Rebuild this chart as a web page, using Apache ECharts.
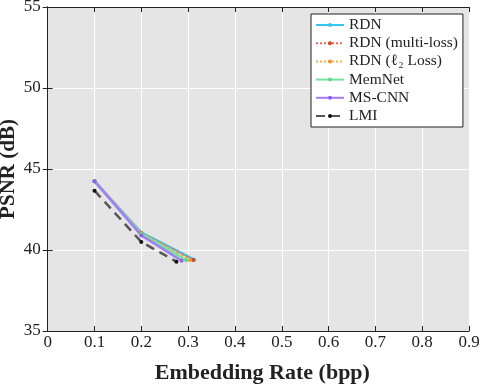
<!DOCTYPE html>
<html>
<head>
<meta charset="utf-8">
<script src="https://cdn.jsdelivr.net/npm/echarts@6/dist/echarts.min.js"></script>
<style>
  html, body { margin: 0; padding: 0; background: #fff; }
  #chart { width: 482px; height: 385px; }
</style>
</head>
<body>
<div id="chart"></div>
<script>
  // values
  const xTicks = [0, 0.1, 0.2, 0.3, 0.4, 0.5, 0.6, 0.7, 0.8, 0.9];
  const yTicks = [35, 40, 45, 50, 55];
  const seriesNames = ['RDN', 'RDN (multi-loss)', 'RDN (\u2113\u2082 Loss)', 'MemNet', 'MS-CNN', 'LMI'];

  const rdnX = [0.1, 0.2, 0.313];
  const rdnY = [44.26, 41.07, 39.4];
  const rdnMultiX = [0.1, 0.2, 0.311];
  const rdnMultiY = [44.25, 41.05, 39.38];
  const rdnL2X = [0.1, 0.2, 0.304];
  const rdnL2Y = [44.25, 41.03, 39.38];
  const memnetX = [0.1, 0.2, 0.296];
  const memnetY = [44.24, 41.0, 39.36];
  const mscnnX = [0.1, 0.2, 0.286];
  const mscnnY = [44.25, 40.9, 39.34];
  const lmiX = [0.1, 0.2, 0.275];
  const lmiY = [43.66, 40.5, 39.28];

  const pairs = (xs, ys) => xs.map((x, i) => [x, ys[i]]);
  const serif = '"Liberation Serif", "DejaVu Serif", serif';

  const chart = echarts.init(document.getElementById('chart'));

  const makeSeries = (name, xs, ys, color, type, symbolColor) => ({
    name,
    type: 'line',
    data: pairs(xs, ys),
    symbol: 'circle',
    symbolSize: 4,
    showSymbol: true,
    lineStyle: { color, width: 2.5, type },
    itemStyle: { color: symbolColor || color },
    emphasis: { disabled: true },
    animation: false,
  });

  const option = {
    animation: false,
    backgroundColor: '#fff',
    grid: {
      left: 47.7, right: 13, top: 7, bottom: 54,
      outerBoundsMode: 'none', containLabel: false,
      show: true, backgroundColor: '#e5e5e5', borderWidth: 0,
    },
    legend: {
      orient: 'vertical',
      left: 311,
      top: 14,
      backgroundColor: '#fff',
      borderColor: '#222',
      borderWidth: 1,
      borderRadius: 0,
      padding: [3, 5, 3, 4],
      itemGap: 2.2,
      itemWidth: 28,
      itemHeight: 5,
      textStyle: { fontFamily: serif, fontSize: 15.5, color: '#222' },
      data: seriesNames,
    },
    xAxis: [
      {
        type: 'value',
        min: xTicks[0],
        max: xTicks[xTicks.length - 1],
        interval: 0.1,
        position: 'bottom',
        axisLine: { lineStyle: { color: '#222', width: 1 } },
        axisTick: { inside: true, length: 5, lineStyle: { color: '#222' } },
        axisLabel: { fontFamily: serif, fontSize: 17, color: '#222', margin: 3,
          formatter: (v) => String(Math.round(v * 10) / 10) },
        splitLine: { show: true, lineStyle: { color: '#fff', width: 1 } },
        name: 'Embedding Rate (bpp)',
        nameLocation: 'middle',
        nameGap: 31,
        nameMoveOverlap: false,
        nameTextStyle: { fontFamily: serif, fontSize: 22, fontWeight: 'bold', color: '#222', verticalAlign: 'top', padding: [0, 0, 0, 8] },
      },
      {
        type: 'value',
        min: xTicks[0],
        max: xTicks[xTicks.length - 1],
        interval: 0.1,
        position: 'top',
        axisLine: { lineStyle: { color: '#222', width: 1 } },
        axisTick: { inside: true, length: 5, lineStyle: { color: '#222' } },
        axisLabel: { show: false },
        splitLine: { show: false },
      },
    ],
    yAxis: [
      {
        type: 'value',
        min: yTicks[0],
        max: yTicks[yTicks.length - 1],
        interval: 5,
        position: 'left',
        axisLine: { show: true, lineStyle: { color: '#222', width: 1 } },
        axisTick: { show: true, inside: true, length: 5, lineStyle: { color: '#222' } },
        axisLabel: { fontFamily: serif, fontSize: 17, color: '#222', margin: 7 },
        splitLine: { show: true, lineStyle: { color: '#fff', width: 1 } },
        name: 'PSNR (dB)',
        nameLocation: 'middle',
        nameGap: 29,
        nameMoveOverlap: false,
        nameTextStyle: { fontFamily: serif, fontSize: 21, fontWeight: 'bold', color: '#222' },
      },
      {
        type: 'value',
        min: yTicks[0],
        max: yTicks[yTicks.length - 1],
        interval: 5,
        position: 'right',
        axisLine: { show: true, lineStyle: { color: '#222', width: 1 } },
        axisTick: { show: true, inside: true, length: 5, lineStyle: { color: '#222' } },
        axisLabel: { show: false },
        splitLine: { show: false },
      },
    ],
    series: [
      makeSeries(seriesNames[0], rdnX, rdnY, '#35c6f4', 'solid'),
      makeSeries(seriesNames[1], rdnMultiX, rdnMultiY, '#ec6a4e', 'dotted', '#d9431e'),
      makeSeries(seriesNames[2], rdnL2X, rdnL2Y, '#f8b04a', 'dotted', '#f39422'),
      makeSeries(seriesNames[3], memnetX, memnetY, '#78e29c', 'solid', '#5fd98a'),
      makeSeries(seriesNames[4], mscnnX, mscnnY, '#a57cf7', 'solid', '#8e5ff3'),
      makeSeries(seriesNames[5], lmiX, lmiY, '#555', [9, 6], '#111'),
    ],
  };

  chart.setOption(option);
  window.addEventListener('resize', () => chart.resize());
</script>
</body>
</html>
